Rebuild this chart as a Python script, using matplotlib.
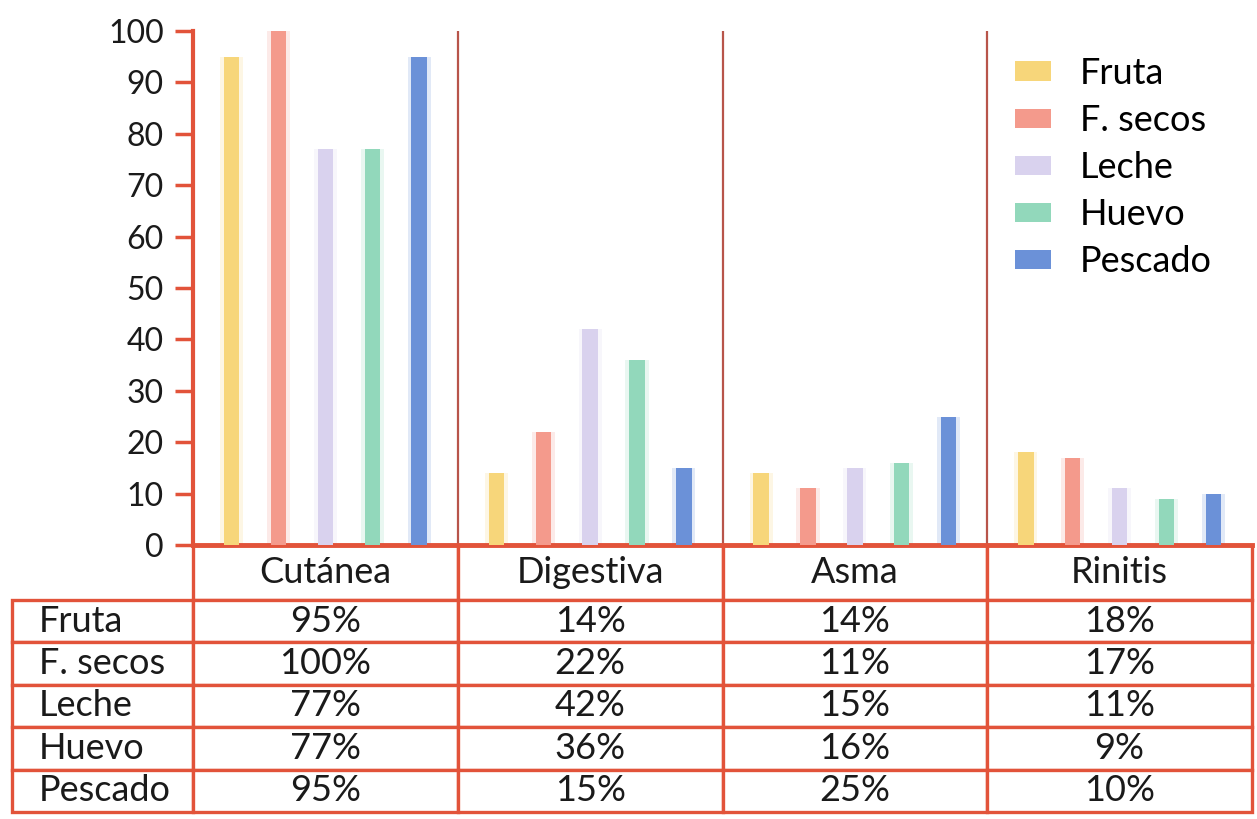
import matplotlib
matplotlib.use("Agg")
import matplotlib.pyplot as plt
from matplotlib.patches import Patch
from matplotlib.table import Table
import numpy as np

plt.rcParams['font.family'] = ['Lato', 'DejaVu Sans']

categories = ["Cutánea", "Digestiva", "Asma", "Rinitis"]
series = ["Fruta", "F. secos", "Leche", "Huevo", "Pescado"]
fruta = [95, 14, 14, 18]
f_secos = [100, 22, 11, 17]
leche = [77, 42, 15, 11]
huevo = [77, 36, 16, 9]
pescado = [95, 15, 25, 10]
values = [fruta, f_secos, leche, huevo, pescado]
colors = ["#f7d67a", "#f49a8c", "#d9d2ee", "#92d8bb", "#6b91d8"]
yticks = list(range(0, 101, 10))

RED = "#e2533a"
SEP = "#b8554a"

W, H = 1257, 819
fig = plt.figure(figsize=(W / 100, H / 100), dpi=100)
ax = fig.add_axes([193 / W, 1 - 545 / H, (1252 - 193) / W, (545 - 31) / H])

x = np.arange(len(categories))
step = 0.177
bw = 0.058
for i, (vals, c) in enumerate(zip(values, colors)):
    off = (i - 2) * step
    ax.bar(x + off, vals, width=bw * 1.5, color=c, alpha=0.2, zorder=2, linewidth=0)
    ax.bar(x + off, vals, width=bw, color=c, zorder=3, linewidth=0)

for s in x[:-1]:
    ax.axvline(s + 0.5, color=SEP, lw=1.6, zorder=1)

ax.set_xlim(-0.5, len(categories) - 0.5)
ax.set_ylim(0, 100)
ax.set_yticks(yticks)
ax.set_yticklabels([str(t) for t in yticks])
ax.set_xticks([])
ax.tick_params(axis='y', length=13, width=2.5, color=RED, pad=8, labelsize=23)
for s in ["top", "right"]:
    ax.spines[s].set_visible(False)
ax.spines["left"].set_color(RED)
ax.spines["left"].set_linewidth(3)
ax.spines["bottom"].set_color(RED)
ax.spines["bottom"].set_linewidth(3.5)

# table below the axes (sizes in axes fractions)
ax_w = 1252 - 193
ax_h = 545 - 31
tab = Table(ax, loc='bottom')
lab_w = 181 / ax_w
col_w = 1.0 / len(categories)
head_h = 55 / ax_h
row_h = (812 - 600) / len(series) / ax_h
for j, cat in enumerate(categories):
    tab.add_cell(0, j, width=col_w, height=head_h, text=cat, loc='center', edgecolor=RED)
for i, (name, vals) in enumerate(zip(series, values)):
    cell = tab.add_cell(i + 1, -1, width=lab_w, height=row_h, text=name, loc='left', edgecolor=RED)
    cell.PAD = 0.15
    for j, v in enumerate(vals):
        tab.add_cell(i + 1, j, width=col_w, height=row_h, text=f"{v}%", loc='center', edgecolor=RED)
tab.auto_set_font_size(False)
tab.set_fontsize(26)
for key, cell in tab.get_celld().items():
    cell.set_linewidth(2.4)
    cell.get_text().set_color("#1a1a1a")
tab.set_clip_on(False)
ax.add_table(tab)

handles = [Patch(facecolor=c, edgecolor='none') for c in colors]
ax.legend(handles, series, loc='upper left',
          bbox_to_anchor=(1015 / W, 1 - 57 / H), bbox_transform=fig.transFigure,
          frameon=False, fontsize=26, handlelength=1.0, handleheight=0.45,
          handletextpad=0.8, labelspacing=0.39, borderaxespad=0, borderpad=0)

for lbl in ax.get_yticklabels():
    lbl.set_color("#1a1a1a")

fig.savefig("out.png", dpi=100)
